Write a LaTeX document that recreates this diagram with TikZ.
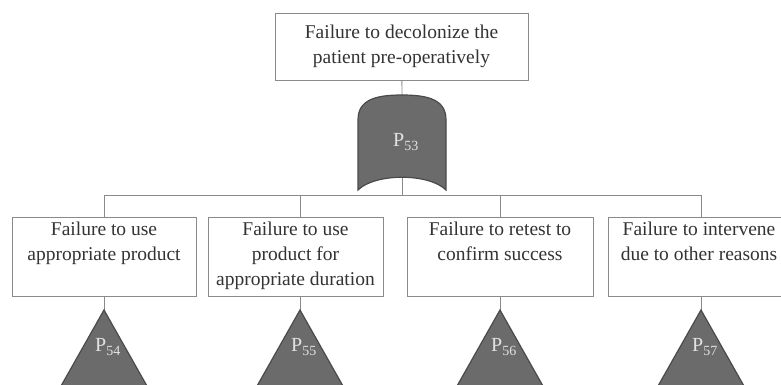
\documentclass[tikz,border=0pt]{standalone}
\usepackage{fontspec}
\setmainfont{Liberation Serif}
\definecolor{linegray}{HTML}{8A8A8A}
\definecolor{textgray}{HTML}{333333}
\definecolor{gatefill}{HTML}{6B6B6B}
\definecolor{gateline}{HTML}{4A4A4A}
\definecolor{labelgray}{HTML}{E2E2E2}
\newcommand{\leaftext}[2]{\parbox[c][79pt][t]{#1}{\centering\vspace{5pt}#2}}
\begin{document}
\begin{tikzpicture}[x=1pt, y=-1pt,
    box/.style={draw=linegray, line width=0.8pt, fill=white, inner sep=0pt, text=textgray, font=\fontsize{19.5}{25}\selectfont},
    link/.style={draw=linegray, line width=0.8pt},
    gate/.style={fill=gatefill, draw=gateline, line width=1.2pt},
    plabel/.style={text=labelgray, font=\fontsize{20}{22}\selectfont}]
    \useasboundingbox (0,0) rectangle (781,385);
    \clip (0,0) rectangle (781,385);
    \node [box, minimum width=253pt, minimum height=67pt, align=center] (top) at (401.5,46.5) {Failure to decolonize the\\patient pre-operatively};
    \node [box] (f54) at (104,256.5) {\leaftext{184pt}{Failure to use\\appropriate product}};
    \node [box] (f55) at (295.5,256.5) {\leaftext{175pt}{Failure to use\\product for\\appropriate duration}};
    \node [box] (f56) at (500,256.5) {\leaftext{186pt}{Failure to retest to\\confirm success}};
    \node [box] (f57) at (699,256.5) {\leaftext{182pt}{Failure to intervene\\due to other reasons}};
    \coordinate (g53n) at (402,96);
    \coordinate (g53s) at (402,177);
    \coordinate (bus) at (402,195);
    \draw [link] (top) -- (g53n);
    \draw [link] (g53s) -- (bus);
    \draw [gate] (358,190) -- (358,120) .. controls (358,100) and (375,95) .. (402,95) .. controls (429,95) and (446,100) .. (446,120) -- (446,190) .. controls (429,173) and (375,173) .. (358,190) -- cycle;
    \node [plabel] (p53) at (406,142) {P\textsubscript{53}};
    \foreach \x/\n in {104/54, 300/55, 500/56, 701/57} {
        \coordinate (t\n) at (\x,310);
        \draw [link] (f\n.north -| t\n) |- (bus);
        \draw [link] (f\n.south -| t\n) -- (t\n);
        \draw [gate] (t\n) -- ++(-52,92) -- ++(104,0) -- cycle;
        \node [plabel] (p\n) at (\x+4,347) {P\textsubscript{\n}};
    }
\end{tikzpicture}
\end{document}
